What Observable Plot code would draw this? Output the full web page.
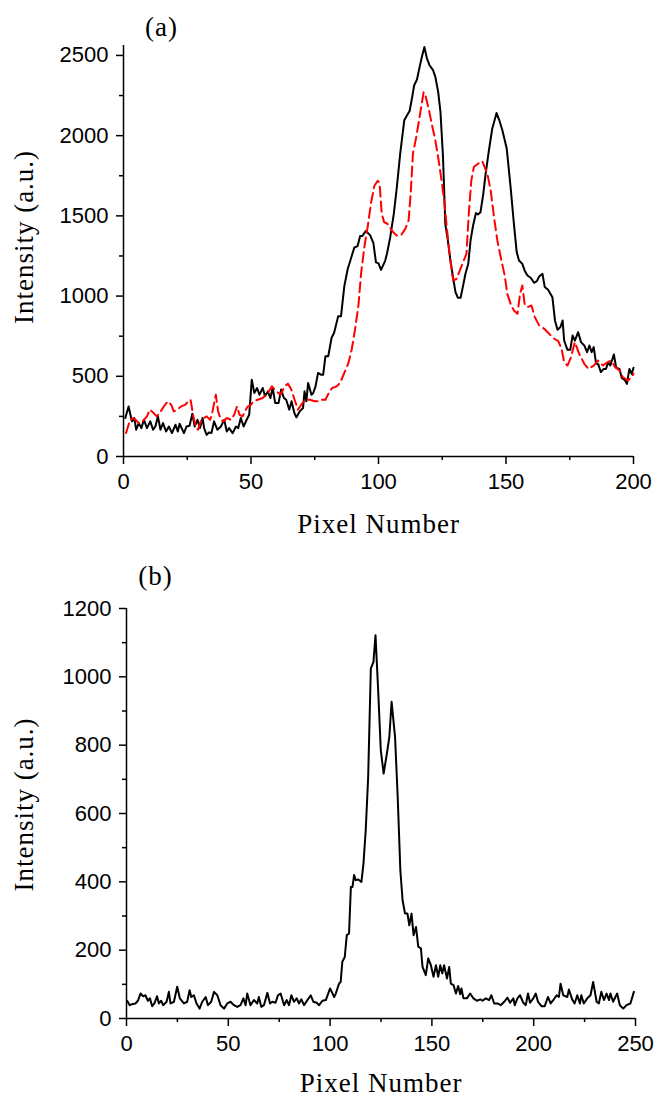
<!DOCTYPE html>
<html><head><meta charset="utf-8">
<script src="https://cdn.jsdelivr.net/npm/d3@7"></script>
<script src="https://cdn.jsdelivr.net/npm/@observablehq/plot@0.6"></script>
<style>body{margin:0;background:#fff} svg{display:block}</style>
</head><body><div id="chart"></div>
<script>
// ---------- Panel (a) ----------
const aBlackPixel = [0.7,2,3.3,4.2,5,6,7,8,9.2,10.5,11.6,12.5,13.5,14.5,15.5,16.7,17.8,19,20.4,21.3,22,23.7,24.7,25.9,27,27.9,29,30,31,31.6,32.6,33.5,34.5,35.5,36.8,38.2,39.5,40.5,41.4,42.8,44.1,45,46,47.1,48.3,49.3,50.3,51.3,52.4,53.3,54.6,55.5,56.6,57.6,58.5,59.5,60.8,61.8,62.9,63.8,65,65.9,67,67.8,69.1,70.4,71,71.7,72.4,73.7,74.4,75.3,76.3,77.4,78.3,79.2,80.3,81.6,82.6,84.2,85.3,86.6,87.9,89.5,90.5,91.8,92.8,93.7,95,96.7,98,99,100,101,102.6,103.3,104.6,106,107.2,108.5,110.1,111.2,112.2,113.1,114,115.1,116.1,117,118,119,120,121.4,122.3,123.4,124.3,125.3,126.2,127.2,128.2,129.3,130.2,131.1,132.2,133.2,134.1,135.2,136.1,137.1,138.2,139,140,141.1,142,143.3,144.6,146.3,147.4,148.6,150.3,151.8,153.1,154.2,155.1,156.4,157.3,158.4,159.7,161,162.1,163,164.3,165.2,166.5,168.2,169.2,170.2,171.3,172.2,172.8,174.1,175.2,176.1,177,178.3,179.4,180.7,181.8,182.7,183.6,184.4,185.3,186.2,187.2,188.3,189.2,190.1,190.9,192.3,193.2,194.5,195.4,196.5,197.4,198.4,199.3,200];
const aBlackIntensity = [240,312,219,240,167,208,177,229,177,219,167,187,250,167,208,156,187,146,198,156,204,146,187,192,267,187,229,177,240,177,135,150,146,219,167,187,229,156,177,146,187,177,240,187,229,260,479,396,427,385,427,375,406,365,427,333,333,417,365,354,292,344,271,244,281,302,406,344,458,385,396,437,521,510,510,625,625,740,771,875,875,1062,1167,1250,1302,1312,1375,1375,1406,1380,1330,1210,1204,1163,1220,1262,1367,1512,1679,1887,2096,2127,2154,2231,2314,2350,2427,2490,2553,2480,2439,2408,2366,2273,2148,1866,1450,1347,1222,1108,1025,990,990,1067,1139,1201,1347,1440,1517,1509,1523,1638,1762,1908,2043,2141,2095,2032,1918,1679,1450,1274,1222,1201,1160,1128,1114,1083,1093,1122,1139,1056,1039,993,848,790,806,848,723,665,665,754,723,775,713,692,650,692,650,682,582,574,526,546,546,588,567,636,553,546,490,478,453,546,515,553];

const aRedPixel = [1,2.6,4,6,7.5,9.2,10.3,11.8,13,14.2,15.8,17.4,18.7,19.7,21,22.6,24.3,25.3,26.3,27.4,28.3,29.2,30.3,31.6,32.6,34,34.9,36.2,37.1,38.2,39.2,40.5,42.1,43.4,44.5,45.5,46.7,47.6,48.7,49.7,51,52.6,54.6,56.6,58.2,59.9,61.6,63.2,64.5,65.8,67.1,68.4,69.7,71.3,73,75,76.6,77.9,79.2,80.5,81.8,83.6,84.9,86.6,88.2,89.5,90.8,92.1,93.2,94.5,95.8,97.1,98.4,99.7,100.4,101.3,102.2,103.5,105.2,107,108.8,110.5,111.8,112.7,113.5,114.8,116.1,117.7,118.4,119.7,121,122.3,123.6,124.9,125.9,126.9,128,129.3,130.6,131.9,133.2,134.5,135.4,136.4,137.4,139,140.7,142.7,144,145.3,146.6,148.2,149.5,150.5,151.8,153.1,154.5,155.5,156.4,157.3,158.4,160,161.3,163,165,166.9,168.9,170.5,171.8,172.8,174.1,175.5,177,178.7,180.7,182.3,184.4,186,188,189.9,191.2,192.8,194.5,195.8,197.8,199.3,200];
const aRedIntensity = [146,229,240,208,219,250,292,271,250,271,312,344,323,281,292,312,323,344,354,250,187,167,219,240,250,229,281,385,281,229,219,240,229,260,312,260,250,281,312,317,344,354,365,396,437,406,385,437,454,417,354,292,323,354,354,344,344,354,354,396,427,437,458,521,583,667,792,938,1146,1312,1437,1583,1688,1719,1704,1513,1461,1451,1409,1378,1378,1419,1471,1658,1887,1991,2116,2271,2251,2167,2064,1970,1845,1700,1575,1409,1243,1097,1108,1160,1212,1264,1513,1721,1804,1825,1841,1762,1658,1492,1347,1222,1128,1014,952,910,889,1014,1066,952,931,941,869,817,796,765,734,719,671,588,567,619,713,640,578,546,567,598,567,588,598,557,536,495,474,495,515];

const aXTicks = [0,50,100,150,200];
const aXMinor = [25,75,125,175];
const aYTicks = [0,500,1000,1500,2000,2500];
const aYMinor = [250,750,1250,1750,2250];

// ---------- Panel (b) ----------
const bPixel = [0.3,1.6,2.7,4.4,5.6,6.9,8.2,9.3,10.5,11.5,12.6,13.7,15,15.9,17,18,19.7,20.8,21.6,23.3,24.9,26.2,28.2,29.8,31,31.8,33.1,34.4,35.9,37.2,38.9,40,41.6,43,44.6,46.2,47.9,49.5,51.1,52.8,54.4,56,57.4,58.5,59.3,60.9,62.6,64.2,65,66.2,67.5,69.2,70.5,71.6,73.2,74.4,75.7,77.4,78.7,79.8,81,82.3,83.6,84.7,85.9,87.2,88.9,90.5,91.8,93.4,94.6,96.2,97.9,100,102,102.8,104.4,105.2,106,107.2,108.2,109.3,110.2,111,111.8,112.6,113.8,115.4,116.4,117.5,118.7,120,121.3,122.3,123.6,124.9,126.3,127.9,129.1,130.2,131.9,133.2,134.5,135.6,136.8,138,138.9,140,141,142.2,143.3,144.6,145.4,147,148.2,149.5,150.8,152,153.1,154.1,155.1,156,157.4,158.5,159.3,160.6,161.8,162.9,163.9,164.5,165.5,167.2,168.8,170.4,172.1,173.8,174.9,176.5,178.1,179.2,180.6,182.2,183.8,185.5,187.1,188.4,190,190.7,192,193.3,194.9,196.1,197.2,198.2,199.8,201,202.1,203.8,205.4,207,208.3,209.6,211.3,212.4,213.2,214.5,216.5,217.3,218.9,220.1,221.4,222.7,223.4,224.6,226.3,227.9,229.2,230.9,232,233.2,234.5,235.8,237,237.7,239,241,242.3,244,245.6,247.5,249.2];
const bIntensity = [52,39,42,44,52,73,65,68,52,59,36,44,65,44,52,39,49,78,44,49,93,59,44,49,83,63,68,44,29,49,63,39,49,78,68,39,29,44,49,39,34,39,59,39,73,39,54,44,63,34,39,75,44,49,46,68,73,39,54,39,68,49,59,44,56,39,54,68,49,46,39,52,54,88,63,73,102,107,166,180,244,249,385,385,420,405,407,400,454,551,707,1024,1044,1122,961,785,717,776,824,927,824,649,434,346,307,307,273,307,244,268,210,205,151,127,176,156,122,156,122,156,132,156,117,151,102,98,73,95,71,88,59,59,73,59,52,56,52,59,54,68,44,44,39,49,61,46,59,39,59,68,46,39,73,46,59,73,49,36,36,63,44,54,68,63,102,68,63,85,56,44,68,44,68,44,59,68,107,49,44,78,54,73,54,73,49,73,39,29,39,44,78];

const bXTicks = [0,50,100,150,200,250];
const bXMinor = [25,75,125,175,225];
const bYTicks = [0,200,400,600,800,1000,1200];
const bYMinor = [100,300,500,700,900,1100];

const xLabel = "Pixel Number";
const yLabel = "Intensity (a.u.)";

const toRows = (xs, ys) => xs.map((x, i) => ({x, y: ys[i]}));

const SERIF = "'Liberation Serif', 'Times New Roman', serif";
const SANS = "'Liberation Sans', Arial, sans-serif";

function panel({title, series, xDomain, yDomain, xTicks, xMinor, yTicks, yMinor, margins, titleOff, yLabOff, xLabDy}) {
  const [mt, mr, mb, ml] = margins;
  const marks = [
    Plot.axisY({ticks: yMinor, tickSize: 4, tickFormat: () => "", label: null, strokeWidth: 1.5}),
    Plot.axisY({ticks: yTicks, tickSize: 7, tickPadding: 8, tickFormat: d => String(d), label: null, fontSize: 22, strokeWidth: 1.5}),
    Plot.axisX({ticks: xMinor, tickSize: 4, tickFormat: () => "", label: null, strokeWidth: 1.5}),
    Plot.axisX({ticks: xTicks, tickSize: 8, tickPadding: 9, tickFormat: d => String(d), label: null, fontSize: 22, strokeWidth: 1.5}),
    Plot.ruleX([xDomain[0]], {strokeWidth: 1.5}),
    Plot.ruleY([yDomain[0]], {strokeWidth: 1.5}),
    ...series.map(s => Plot.line(s.data, {x: "x", y: "y", stroke: s.color, strokeWidth: 2, strokeDasharray: s.dash, strokeLinejoin: "round"})),
    Plot.text([title], {frameAnchor: "top-left", dx: titleOff[0], dy: titleOff[1], textAnchor: "middle", lineAnchor: "bottom", fontFamily: SERIF, fontSize: 27}),
    Plot.text([xLabel], {frameAnchor: "bottom", dy: xLabDy, textAnchor: "middle", lineAnchor: "bottom", fontFamily: SERIF, fontSize: 27}),
    Plot.text([yLabel], {frameAnchor: "left", rotate: -90, dx: yLabOff[0], dy: yLabOff[1], textAnchor: "middle", lineAnchor: "bottom", fontFamily: SERIF, fontSize: 27})
  ];
  const svg = Plot.plot({
    width: 657, height: 548,
    marginTop: mt, marginRight: mr, marginBottom: mb, marginLeft: ml,
    x: {domain: xDomain}, y: {domain: yDomain},
    style: {fontFamily: SANS, background: "white", color: "black", overflow: "visible"},
    marks
  });
  d3.select(svg).selectAll("text").filter(function() {
    const t = this.textContent; return t === xLabel || t === yLabel || t === title;
  }).attr("letter-spacing", "1px");
  return svg;
}

const root = document.getElementById("chart");
root.appendChild(panel({
  title: "(a)",
  series: [
    {data: toRows(aBlackPixel, aBlackIntensity), color: "black", dash: null},
    {data: toRows(aRedPixel, aRedIntensity), color: "#ff0000", dash: "10,5"}
  ],
  xDomain: [0, 200], yDomain: [0, 2562],
  xTicks: aXTicks, xMinor: aXMinor, yTicks: aYTicks, yMinor: aYMinor,
  margins: [45, 24, 92, 123],
  titleOff: [38, -10], yLabOff: [-91, -14], xLabDy: 76
}));
root.appendChild(panel({
  title: "(b)",
  series: [{data: toRows(bPixel, bIntensity), color: "black", dash: null}],
  xDomain: [0, 250], yDomain: [0, 1200],
  xTicks: bXTicks, xMinor: bXMinor, yTicks: bYTicks, yMinor: bYMinor,
  margins: [60, 22, 78, 126],
  titleOff: [29, -24], yLabOff: [-94, -9], xLabDy: 73
}));
</script>
</body></html>
